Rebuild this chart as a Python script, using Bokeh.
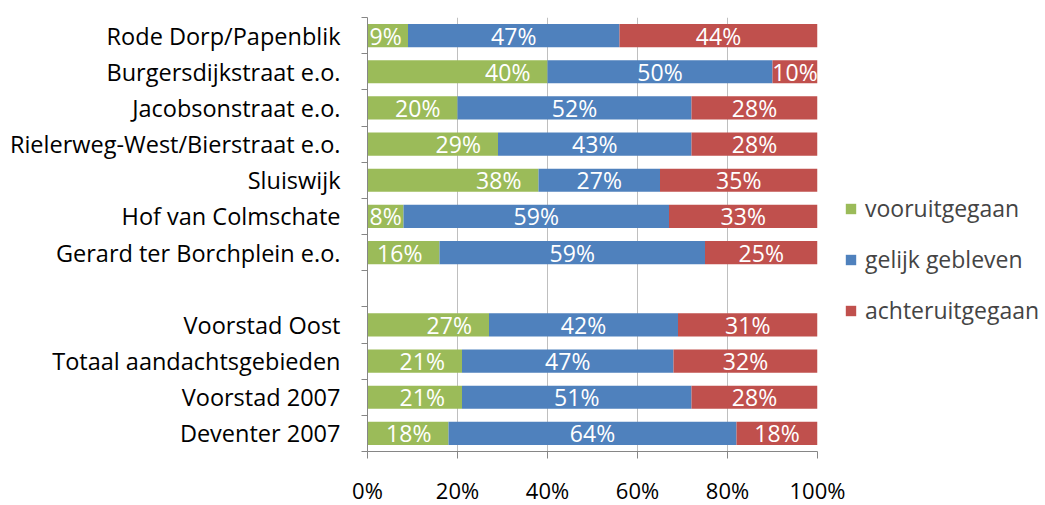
from bokeh.plotting import figure
from bokeh.models import (ColumnDataSource, Range1d, FixedTicker, Legend, LegendItem)
from bokeh.core.properties import value
from bokeh.embed import file_html
from bokeh.resources import INLINE

categories = ["Rode Dorp/Papenblik", "Burgersdijkstraat e.o.", "Jacobsonstraat e.o.",
              "Rielerweg-West/Bierstraat e.o.", "Sluiswijk", "Hof van Colmschate",
              "Gerard ter Borchplein e.o.", "Voorstad Oost", "Totaal aandachtsgebieden",
              "Voorstad 2007", "Deventer 2007"]
vooruit = [9, 40, 20, 29, 38, 8, 16, 27, 21, 21, 18]
gelijk = [47, 50, 52, 43, 27, 59, 59, 42, 47, 51, 64]
achteruit = [44, 10, 28, 28, 35, 33, 25, 31, 32, 28, 18]
series_names = ["vooruitgegaan", "gelijk gebleven", "achteruitgegaan"]
x_ticks = [0, 20, 40, 60, 80, 100]
x_tick_labels = ["0%", "20%", "40%", "60%", "80%", "100%"]

colors = ["#9BBB59", "#4F81BD", "#C0504D"]
FONT = "Open Sans"

# row positions: gap between the first 7 areas and the totals
ypos = [i if i < 7 else i + 1 for i in range(len(categories))]

src = ColumnDataSource(dict(
    y=ypos, g=vooruit, b=gelijk, r=achteruit,
    g_lab=[f"{v}%" for v in vooruit],
    b_lab=[f"{v}%" for v in gelijk],
    r_lab=[f"{v}%" for v in achteruit],
    g_x=[max(v - 3.8, 7.6) for v in vooruit],
    b_x=[g + b / 2 for g, b in zip(vooruit, gelijk)],
    r_x=[g + b + r / 2 for g, b, r in zip(vooruit, gelijk, achteruit)],
))

p = figure(frame_width=450, frame_height=434, output_backend="svg", toolbar_location=None,
           x_range=Range1d(0, 100), y_range=Range1d(11.5, -0.5),
           min_border_left=367, min_border_top=17, min_border_right=220, min_border_bottom=53)
p.outline_line_color = None
p.background_fill_color = "white"

rs = p.hbar_stack(["g", "b", "r"], y="y", height=0.64, color=colors, line_color=None, source=src)

txt = dict(text_color="white", text_font=value(FONT), text_font_size="23px",
           text_baseline="middle", source=src)
p.text(x="g_x", y="y", text="g_lab", text_align="right", **txt)
p.text(x="b_x", y="y", text="b_lab", text_align="center", **txt)
p.text(x="r_x", y="y", text="r_lab", text_align="center", **txt)

# x axis
p.xaxis.ticker = FixedTicker(ticks=x_ticks)
p.xaxis.major_label_overrides = {t: l for t, l in zip(x_ticks, x_tick_labels)}
p.xaxis.axis_line_color = "#868686"
p.xaxis.major_tick_line_color = "#868686"
p.xaxis.major_tick_out = 7
p.xaxis.major_tick_in = 0
p.xaxis.minor_tick_line_color = None
p.xaxis.major_label_standoff = 16
p.xaxis.major_label_text_font = FONT
p.xaxis.major_label_text_font_size = "22px"
p.xaxis.major_label_text_color = "black"

# y axis: labels at row centres, ticks between rows
p.yaxis.ticker = FixedTicker(ticks=ypos, minor_ticks=[i - 0.5 for i in range(13)])
p.yaxis.major_label_overrides = {y: c for y, c in zip(ypos, categories)}
p.yaxis.axis_line_color = "#868686"
p.yaxis.major_tick_line_color = None
p.yaxis.major_tick_out = 0
p.yaxis.major_tick_in = 0
p.yaxis.minor_tick_line_color = "#868686"
p.yaxis.minor_tick_out = 6
p.yaxis.minor_tick_in = 0
p.yaxis.major_label_standoff = 21
p.yaxis.major_label_text_font = FONT
p.yaxis.major_label_text_font_size = "23.5px"
p.yaxis.major_label_text_color = "black"

p.xgrid.grid_line_color = "#BFBFBF"
p.xgrid.grid_line_width = 1
p.ygrid.grid_line_color = None

legend = Legend(items=[LegendItem(label=n, renderers=[r]) for n, r in zip(series_names, rs)],
                location=(27, 125), glyph_width=13, glyph_height=13, label_standoff=8,
                spacing=19, label_text_font=FONT, label_text_font_size="23px",
                border_line_color=None, background_fill_alpha=0)
p.add_layout(legend, "right")

open("out.html", "w").write(file_html(p, INLINE))
